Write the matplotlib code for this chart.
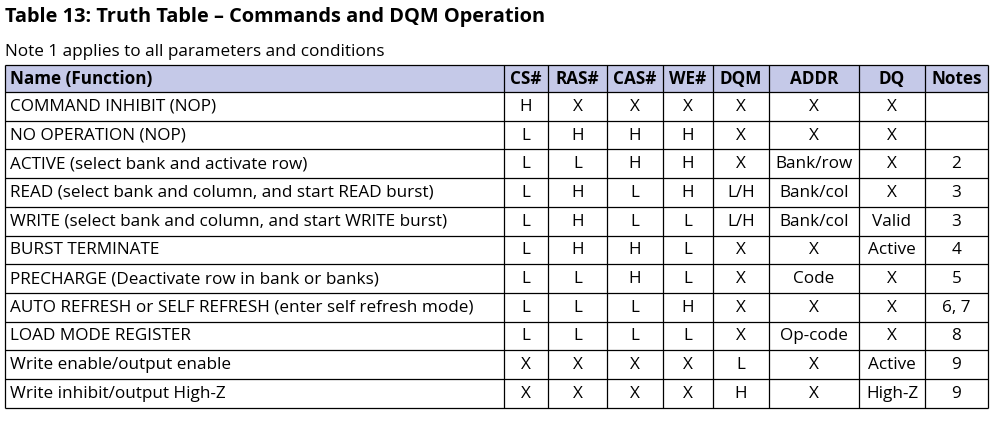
import matplotlib.pyplot as plt

plt.rcParams['font.family'] = ['Open Sans', 'DejaVu Sans']

title = "Table 13: Truth Table \u2013 Commands and DQM Operation"
note = "Note 1 applies to all parameters and conditions"

headers = ["Name (Function)", "CS#", "RAS#", "CAS#", "WE#", "DQM", "ADDR", "DQ", "Notes"]
names = [
    "COMMAND INHIBIT (NOP)",
    "NO OPERATION (NOP)",
    "ACTIVE (select bank and activate row)",
    "READ (select bank and column, and start READ burst)",
    "WRITE (select bank and column, and start WRITE burst)",
    "BURST TERMINATE",
    "PRECHARGE (Deactivate row in bank or banks)",
    "AUTO REFRESH or SELF REFRESH (enter self refresh mode)",
    "LOAD MODE REGISTER",
    "Write enable/output enable",
    "Write inhibit/output High-Z",
]
cs = ["H", "L", "L", "L", "L", "L", "L", "L", "L", "X", "X"]
ras = ["X", "H", "L", "H", "H", "H", "L", "L", "L", "X", "X"]
cas = ["X", "H", "H", "L", "L", "H", "H", "L", "L", "X", "X"]
we = ["X", "H", "H", "H", "L", "L", "L", "H", "L", "X", "X"]
dqm = ["X", "X", "X", "L/H", "L/H", "X", "X", "X", "X", "L", "H"]
addr = ["X", "X", "Bank/row", "Bank/col", "Bank/col", "X", "Code", "X", "Op-code", "X", "X"]
dq = ["X", "X", "X", "X", "Valid", "Active", "X", "X", "X", "Active", "High-Z"]
notes = ["", "", "2", "3", "3", "4", "5", "6, 7", "8", "9", "9"]

columns = [names, cs, ras, cas, we, dqm, addr, dq, notes]

# layout in pixels
col_edges = [5, 504, 548, 607, 663, 713, 769, 859, 925, 988]
top = 65
head_h = 27
row_h = 28.7
header_fill = "#c5c9e8"

fig = plt.figure(figsize=(9.95, 4.22), dpi=100)
ax = fig.add_axes([0, 0, 1, 1])
ax.set_xlim(0, 995)
ax.set_ylim(422, 0)
ax.axis('off')

ax.text(5, 17, title, fontsize=14.4, fontweight='bold', va='center', ha='left')
ax.text(5, 52, note, fontsize=12.3, va='center', ha='left')

n = len(names)
bottom = top + head_h + n * row_h
row_edges = [top, top + head_h] + [top + head_h + (i + 1) * row_h for i in range(n)]

# header background
ax.add_patch(plt.Rectangle((col_edges[0], top), col_edges[-1] - col_edges[0], head_h,
                           facecolor=header_fill, edgecolor='none'))

# header text
for j, h in enumerate(headers):
    if j == 0:
        x, ha = col_edges[0] + 5, 'left'
    else:
        x, ha = (col_edges[j] + col_edges[j + 1]) / 2, 'center'
    ax.text(x, top + head_h / 2 + 0.5, h, fontsize=12.3, fontweight='bold', va='center', ha=ha)

# body text
for i in range(n):
    yc = row_edges[i + 1] + row_h / 2 + 0.5
    for j, col in enumerate(columns):
        if j == 0:
            x, ha = col_edges[0] + 5, 'left'
        else:
            x, ha = (col_edges[j] + col_edges[j + 1]) / 2, 'center'
        ax.text(x, yc, col[i], fontsize=12.3, va='center', ha=ha)

# grid lines
for y in row_edges:
    ax.plot([col_edges[0], col_edges[-1]], [y, y], color='black', lw=0.9, solid_capstyle='butt')
for x in col_edges:
    ax.plot([x, x], [top, bottom], color='black', lw=0.9, solid_capstyle='butt')

fig.savefig('out.png', dpi=100)
